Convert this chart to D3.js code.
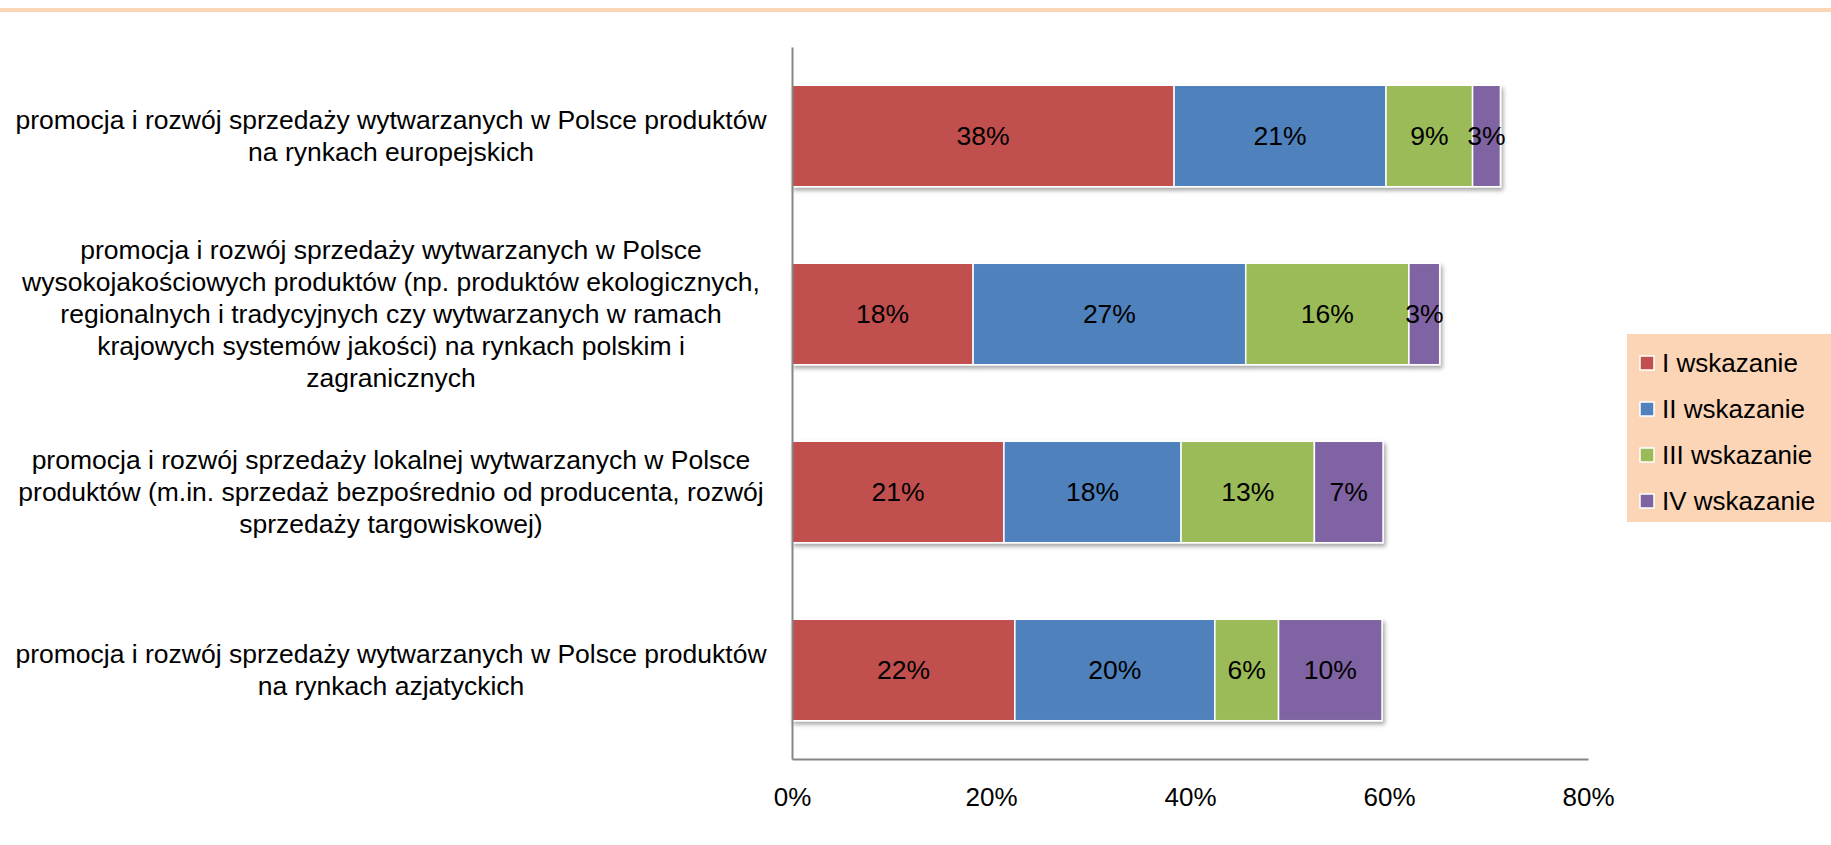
<!DOCTYPE html>
<html>
<head>
<meta charset="utf-8">
<script src="https://cdn.jsdelivr.net/npm/d3@7"></script>
<style>
  html, body { margin: 0; padding: 0; background: #ffffff; }
  svg { display: block; font-family: "Liberation Sans", Arial, sans-serif; }
</style>
</head>
<body>
<svg id="chart" width="1831" height="845"></svg>
<script>
// ---- data ----
const categories = [
  "promocja i rozwój sprzedaży wytwarzanych w Polsce produktów\nna rynkach europejskich",
  "promocja i rozwój sprzedaży wytwarzanych w Polsce\nwysokojakościowych produktów (np. produktów ekologicznych,\nregionalnych i tradycyjnych czy wytwarzanych w ramach\nkrajowych systemów jakości) na rynkach polskim i\nzagranicznych",
  "promocja i rozwój sprzedaży lokalnej wytwarzanych w Polsce\nproduktów (m.in. sprzedaż bezpośrednio od producenta, rozwój\nsprzedaży targowiskowej)",
  "promocja i rozwój sprzedaży wytwarzanych w Polsce produktów\nna rynkach azjatyckich"
];
const seriesNames = ["I wskazanie", "II wskazanie", "III wskazanie", "IV wskazanie"];
const seriesI   = [0.384, 0.182, 0.213, 0.224];
const seriesII  = [0.213, 0.274, 0.178, 0.201];
const seriesIII = [0.087, 0.164, 0.134, 0.064];
const seriesIV  = [0.028, 0.031, 0.069, 0.104];
const xTicks = [0, 0.2, 0.4, 0.6, 0.8];
const colors = ["#C0504D", "#4F81BD", "#9BBB59", "#8064A2"];

const seriesValues = [seriesI, seriesII, seriesIII, seriesIV];
const rows = categories.map((c, i) => {
  const r = { category: c };
  seriesNames.forEach((s, j) => r[s] = seriesValues[j][i]);
  return r;
});

// ---- layout ----
const svg = d3.select("#chart");
const plot = { left: 792, right: 1588, top: 47, bottom: 759 };

// top decorative rule
svg.append("rect").attr("x", 0).attr("y", 8).attr("width", 1831).attr("height", 4).attr("fill", "#FAD6B6");

const defs = svg.append("defs");
const f = defs.append("filter").attr("id", "shadow").attr("x", "-5%").attr("y", "-10%").attr("width", "115%").attr("height", "130%");
f.append("feDropShadow").attr("dx", 2).attr("dy", 3).attr("stdDeviation", 2)
  .attr("flood-color", "#000").attr("flood-opacity", 0.35);

const x = d3.scaleLinear().domain([0, 0.8]).range([plot.left, plot.right]);
const y = d3.scaleBand().domain(categories).range([plot.top, plot.bottom])
  .paddingInner(0.43).paddingOuter(0.215);

const stack = d3.stack().keys(seriesNames)(rows);

// bars
const barGroups = svg.append("g").attr("filter", "url(#shadow)");
stack.forEach((layer, j) => {
  barGroups.append("g").selectAll("rect").data(layer).join("rect")
    .attr("x", d => x(d[0]))
    .attr("y", d => y(d.data.category))
    .attr("width", d => x(d[1]) - x(d[0]))
    .attr("height", y.bandwidth())
    .attr("fill", colors[j])
    .attr("stroke", "#ffffff")
    .attr("stroke-width", 1.5);
});

// value labels
const fmt = d3.format(".0%");
stack.forEach((layer, j) => {
  svg.append("g").selectAll("text").data(layer).join("text")
    .attr("x", d => (x(d[0]) + x(d[1])) / 2)
    .attr("y", d => y(d.data.category) + y.bandwidth() / 2)
    .attr("text-anchor", "middle")
    .attr("dominant-baseline", "central")
    .attr("font-size", 26.5)
    .attr("fill", "#000")
    .text(d => fmt(d[1] - d[0]));
});

// axes
const xAxis = d3.axisBottom(x).tickValues(xTicks).tickFormat(d3.format(".0%")).tickSize(0).tickPadding(29);
const gx = svg.append("g").attr("transform", `translate(0,${plot.bottom})`).call(xAxis);
gx.select(".domain").attr("stroke", "#868686").attr("stroke-width", 2);
gx.selectAll("text").attr("font-size", 26).attr("fill", "#000").attr("font-family", "Liberation Sans, Arial, sans-serif");

const yAxis = d3.axisLeft(y).tickSize(0).tickFormat("");
const gy = svg.append("g").attr("transform", `translate(${plot.left},0)`).call(yAxis);
gy.select(".domain").attr("stroke", "#868686").attr("stroke-width", 2);

// category labels (multi-line, centered)
const lineH = 32;
const labelCx = 391;
const catG = svg.append("g");
categories.forEach(c => {
  const lines = c.split("\n");
  const cy = y(c) + y.bandwidth() / 2;
  const t = catG.append("text")
    .attr("text-anchor", "middle")
    .attr("font-size", 26.5)
    .attr("fill", "#000");
  lines.forEach((ln, i) => {
    t.append("tspan")
      .attr("x", labelCx)
      .attr("y", cy + (i - (lines.length - 1) / 2) * lineH)
      .attr("dominant-baseline", "central")
      .text(ln);
  });
});

// legend
const lg = svg.append("g");
lg.append("rect").attr("x", 1627).attr("y", 334).attr("width", 204).attr("height", 188).attr("fill", "#FBD5B5");
const legendY = d3.scalePoint().domain(seriesNames).range([363, 501]);
seriesNames.forEach((s, j) => {
  lg.append("rect").attr("x", 1640).attr("y", legendY(s) - 7).attr("width", 14).attr("height", 14)
    .attr("fill", colors[j]).attr("stroke", "#ffffff").attr("stroke-width", 1.5);
  lg.append("text").attr("x", 1662).attr("y", legendY(s)).attr("dominant-baseline", "central")
    .attr("font-size", 26).attr("fill", "#000").text(s);
});
</script>
</body>
</html>
